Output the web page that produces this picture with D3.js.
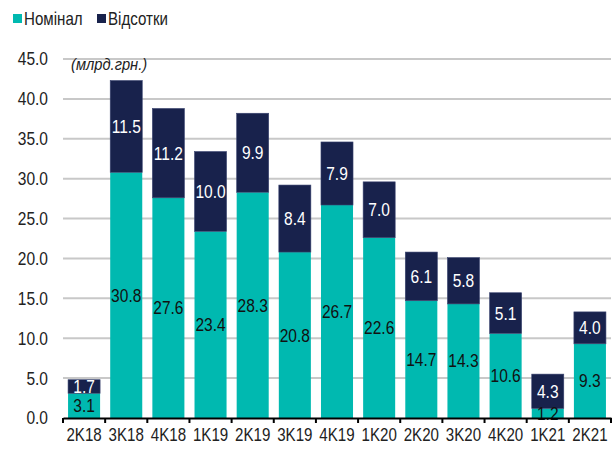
<!DOCTYPE html>
<html>
<head>
<meta charset="utf-8">
<script src="https://d3js.org/d3.v7.min.js"></script>
<style>
  body { margin: 0; background: #fff; }
  svg text { font-family: "Liberation Sans", Arial, sans-serif; }
</style>
</head>
<body>
<svg class="chart"></svg>
<script>
var categories = ["2K18","3K18","4K18","1K19","2K19","3K19","4K19","1K20","2K20","3K20","4K20","1K21","2K21"];
var nominal = [3.1, 30.8, 27.6, 23.4, 28.3, 20.8, 26.7, 22.6, 14.7, 14.3, 10.6, 1.2, 9.3];
var interest = [1.7, 11.5, 11.2, 10.0, 9.9, 8.4, 7.9, 7.0, 6.1, 5.8, 5.1, 4.3, 4.0];
var yTicks = [0, 5, 10, 15, 20, 25, 30, 35, 40, 45];
var seriesNames = ["Номінал", "Відсотки"];
var colors = ["#00b9b0", "#18224c"];

var svgWidth = 614, svgHeight = 450;
var margin = {top: 59, right: 3, bottom: 32, left: 63},
    width = svgWidth - margin.left - margin.right,
    height = svgHeight - margin.top - margin.bottom;

// narrow look: squeeze text horizontally
var squeeze = 0.84;
function at(px, py) { return "translate(" + px + "," + py + ") scale(" + squeeze + ",1)"; }

var svg = d3.select(".chart").attr("width", svgWidth).attr("height", svgHeight);
var chart = svg.append("g").attr("transform", "translate(" + margin.left + "," + margin.top + ")");

var x = d3.scaleBand().domain(categories).range([0, width]).paddingInner(0.24).paddingOuter(0.12);
var y = d3.scaleLinear().domain([0, 45]).range([height, 0]);

// gridlines
chart.selectAll(".grid").data(yTicks.slice(1)).enter().append("line")
    .attr("x1", 0).attr("x2", width)
    .attr("y1", d => y(d)).attr("y2", d => y(d))
    .attr("stroke", "#c8c8c8").attr("stroke-width", 2);

// y labels
chart.selectAll(".ylab").data(yTicks).enter().append("text")
    .attr("transform", d => at(-15, y(d))).attr("dy", "0.35em")
    .attr("text-anchor", "end").attr("font-size", 18.5).attr("fill", "#222")
    .text(d => d.toFixed(1));

var data = categories.map((c, i) => ({cat: c, nom: nominal[i], int: interest[i]}));

// nominal bars
chart.selectAll(".nom").data(data).enter().append("rect")
    .attr("x", d => x(d.cat)).attr("width", x.bandwidth())
    .attr("y", d => y(d.nom)).attr("height", d => y(0) - y(d.nom))
    .attr("fill", colors[0]);

// interest bars
chart.selectAll(".int").data(data).enter().append("rect")
    .attr("x", d => x(d.cat)).attr("width", x.bandwidth())
    .attr("y", d => y(d.nom + d.int)).attr("height", d => y(d.nom) - y(d.nom + d.int))
    .attr("fill", colors[1]).attr("stroke", "#3a4470").attr("stroke-width", 0.6);

// labels
chart.selectAll(".nomlab").data(data).enter().append("text")
    .attr("transform", d => at(x(d.cat) + x.bandwidth() / 2, y(d.nom / 2))).attr("dy", "0.35em")
    .attr("text-anchor", "middle").attr("font-size", 18.5).attr("fill", "#111")
    .text(d => d.nom.toFixed(1));
chart.selectAll(".intlab").data(data).enter().append("text")
    .attr("transform", d => at(x(d.cat) + x.bandwidth() / 2, y(d.nom + d.int / 2))).attr("dy", "0.35em")
    .attr("text-anchor", "middle").attr("font-size", 18.5).attr("fill", "#fff")
    .text(d => d.int.toFixed(1));

// x axis
var xAxis = d3.axisBottom(x).tickSize(0).tickPadding(10);
var gx = chart.append("g").attr("transform", "translate(0," + height + ")").call(xAxis);
gx.select(".domain").attr("stroke", "#000").attr("stroke-width", 2);
gx.selectAll("text").attr("font-size", 18).attr("fill", "#222")
    .attr("transform", "scale(" + squeeze + ",1)")
    .attr("x", function() { return 0; });
gx.selectAll(".tick text").attr("transform", "scale(" + squeeze + ",1)");
// category boundary ticks
var bounds = categories.map(c => x(c) - x.step() * x.paddingInner() / 2);
bounds[0] = 0;
bounds.push(width);
gx.selectAll(".btick").data(bounds).enter().append("line")
    .attr("x1", d => d).attr("x2", d => d).attr("y1", 0).attr("y2", 5)
    .attr("stroke", "#000").attr("stroke-width", 2);

// unit note
chart.append("text").attr("transform", "translate(8,11) scale(0.92,1)")
    .attr("font-size", 16).attr("font-style", "italic").attr("fill", "#222")
    .text("(млрд.грн.)");

// legend
var legend = svg.append("g").attr("transform", "translate(13,14)");
var lx = [0, 84];
seriesNames.forEach(function(name, i) {
    legend.append("rect").attr("x", lx[i]).attr("y", 0).attr("width", 9).attr("height", 9).attr("fill", colors[i]);
    legend.append("text").attr("transform", at(lx[i] + 11, 4.5)).attr("dy", "0.35em")
        .attr("font-size", 18).attr("fill", "#222").text(name);
});
</script>
</body>
</html>
